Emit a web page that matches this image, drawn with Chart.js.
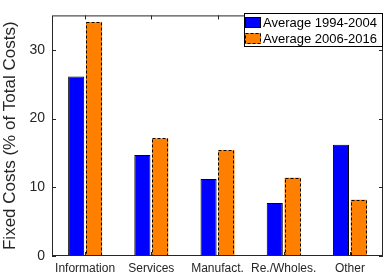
<!DOCTYPE html>
<html>
<head>
<meta charset="UTF-8">
<script src="https://cdn.jsdelivr.net/npm/chart.js"></script>
<style>
  html, body { margin: 0; padding: 0; background: #fff; overflow: hidden; }
  #wrap { width: 384px; height: 274px; }
</style>
</head>
<body>
<div id="wrap"><canvas id="chart" width="384" height="274"></canvas></div>
<script>
const categories = ['Information', 'Services', 'Manufact.', 'Re./Wholes.', 'Other'];
const early = [26.1, 14.7, 11.2, 7.7, 16.2];
const late = [34.0, 17.1, 15.4, 11.4, 8.2];
const seriesNames = ['Average 1994-2004', 'Average 2006-2016'];
const yTicks = [0, 10, 20, 30];

const FONT = '"Liberation Sans", Arial, sans-serif';
const AXIS = '#262626';

// cadre, petits traits vers l'intérieur, bordures pointillées et légende
const matlabAxes = {
    id: 'matlabAxes',
    afterDatasetsDraw(chart) {
        const ctx = chart.ctx;
        const a = chart.chartArea;
        const x = chart.scales.x, y = chart.scales.y;

        // bordure en pointillés pour la 2e série
        ctx.save();
        ctx.strokeStyle = '#000';
        ctx.lineWidth = 1;
        ctx.setLineDash([3, 2]);
        chart.getDatasetMeta(1).data.forEach(bar => {
            const w = bar.width;
            ctx.strokeRect(Math.round(bar.x - w / 2) + 0.5, Math.round(bar.y) + 0.5, Math.round(w) - 1, Math.round(bar.base - bar.y) - 1);
        });
        ctx.restore();

        ctx.save();
        ctx.strokeStyle = AXIS;
        ctx.lineWidth = 1;
        ctx.strokeRect(a.left + 0.5, a.top + 0.5, a.right - a.left - 1, a.bottom - a.top - 1);
        const t = 4;
        ctx.beginPath();
        categories.forEach((c, i) => {
            const px = Math.round(x.getPixelForValue(i)) + 0.5;
            ctx.moveTo(px, a.top); ctx.lineTo(px, a.top + t);
            ctx.moveTo(px, a.bottom); ctx.lineTo(px, a.bottom - t);
        });
        yTicks.forEach(v => {
            const py = Math.round(y.getPixelForValue(v)) + 0.5;
            ctx.moveTo(a.left, py); ctx.lineTo(a.left + t, py);
            ctx.moveTo(a.right, py); ctx.lineTo(a.right - t, py);
        });
        ctx.stroke();
        ctx.restore();

        // légende
        const lx = 244, ly = 13, lw = 139, lh = 34;
        ctx.save();
        ctx.fillStyle = '#fff';
        ctx.fillRect(lx, ly, lw, lh);
        ctx.strokeStyle = '#000';
        ctx.strokeRect(lx + 0.5, ly + 0.5, lw - 1, lh - 1);
        ctx.font = '13px ' + FONT;
        ctx.textBaseline = 'middle';
        chart.data.datasets.forEach((ds, i) => {
            const sy = ly + 4 + i * 16;
            ctx.fillStyle = ds.backgroundColor;
            ctx.fillRect(lx + 1, sy, 16, 11);
            ctx.strokeStyle = '#000';
            if (i === 1) ctx.setLineDash([3, 2]); else ctx.setLineDash([]);
            ctx.strokeRect(lx + 1.5, sy + 0.5, 15, 10);
            ctx.setLineDash([]);
            ctx.fillStyle = '#000';
            ctx.fillText(ds.label, lx + 19, sy + 6);
        });
        ctx.restore();
    }
};

new Chart(document.getElementById('chart').getContext('2d'), {
    type: 'bar',
    data: {
        labels: categories,
        datasets: [{
            label: seriesNames[0],
            data: early,
            backgroundColor: '#0000ff',
            borderColor: '#000',
            borderWidth: 1,
            categoryPercentage: 0.54,
            barPercentage: 0.9
        }, {
            label: seriesNames[1],
            data: late,
            backgroundColor: '#ff8000',
            borderWidth: 0,
            categoryPercentage: 0.54,
            barPercentage: 0.9
        }]
    },
    options: {
        responsive: false,
        animation: false,
        layout: { padding: { top: 9, right: 1, left: 0, bottom: 0 } },
        plugins: { legend: { display: false }, tooltip: { enabled: false } },
        scales: {
            x: {
                grid: { display: false, drawTicks: false },
                border: { display: false },
                ticks: { color: AXIS, font: { family: FONT, size: 12 }, padding: 5, maxRotation: 0, autoSkip: false },
                afterFit(s) { s.height = 18; }
            },
            y: {
                min: 0,
                max: 35,
                grid: { display: false, drawTicks: false },
                border: { display: false },
                afterBuildTicks(s) { s.ticks = yTicks.map(v => ({ value: v })); },
                ticks: { color: AXIS, font: { family: FONT, size: 14 }, padding: 7 },
                title: { display: true, text: 'Fixed Costs (% of Total Costs)', color: AXIS, font: { family: FONT, size: 17 }, padding: 0 },
                afterFit(s) { s.width = 52; }
            }
        }
    },
    plugins: [matlabAxes]
});
</script>
</body>
</html>
